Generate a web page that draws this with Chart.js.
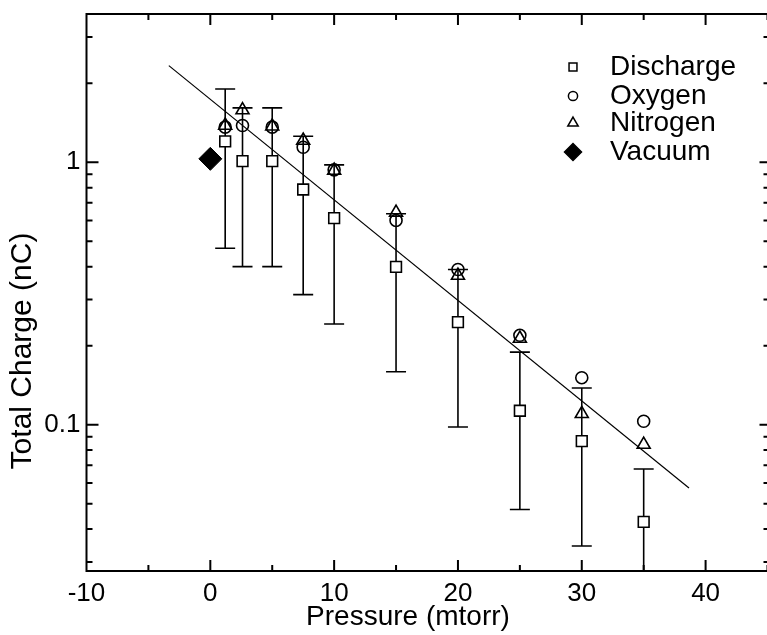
<!DOCTYPE html>
<html>
<head>
<meta charset="utf-8">
<script src="https://cdn.jsdelivr.net/npm/chart.js@4.4.0/dist/chart.umd.min.js"></script>
<style>
  html, body { margin: 0; padding: 0; background: #fff; overflow: hidden; }
  #wrap { width: 780px; height: 635px; }
</style>
</head>
<body>
<div id="wrap"><canvas id="chargeChart" width="780" height="635"></canvas></div>
<script>
// 数据：压力 (mtorr) 与总电荷 (nC)
const pressure = [1.2, 2.6, 5, 7.5, 10, 15, 20, 25, 30, 35];
const discharge = [1.20, 1.01, 1.01, 0.787, 0.612, 0.399, 0.246, 0.113, 0.0866, 0.0426];
const dischargeHigh = [1.90, 1.61, 1.61, 1.256, 0.977, 0.636, 0.390, 0.189, 0.138, 0.0678];
const dischargeLow = [0.47, 0.40, 0.40, 0.313, 0.242, 0.159, 0.098, 0.0475, 0.0345, 0.017];
const oxygen = [1.36, 1.38, 1.36, 1.14, 0.935, 0.600, 0.390, 0.219, 0.151, 0.103];
const nitrogen = [1.38, 1.58, 1.37, 1.21, 0.93, 0.643, 0.370, 0.213, 0.110, 0.084];
const vacuumX = [0];
const vacuum = [1.03];
const fitX = [-3.35, 38.66];
const fitY = [2.334, 0.0574];

// 坐标轴刻度
const xMajorTicks = [-10, 0, 10, 20, 30, 40];
const xMinorTicks = [-5, 5, 15, 25, 35, 45];
const yMajorTicks = [0.1, 1];
const yMinorTicks = [0.03, 0.04, 0.05, 0.06, 0.07, 0.08, 0.09, 0.2, 0.3, 0.4, 0.5, 0.6, 0.7, 0.8, 0.9, 2, 3];

const FONT = '"Liberation Sans", Arial, sans-serif';
const toPts = (xs, ys) => xs.map((x, i) => ({ x, y: ys[i] }));

// 误差棒
const errorBarPlugin = {
  id: 'errorBars',
  beforeDatasetsDraw(chart) {
    const { ctx, chartArea: a, scales: { x, y } } = chart;
    ctx.save();
    ctx.beginPath();
    ctx.rect(a.left, a.top, a.right - a.left, a.bottom - a.top);
    ctx.clip();
    ctx.strokeStyle = '#000';
    ctx.lineWidth = 1.6;
    pressure.forEach((p, i) => {
      const px = x.getPixelForValue(p);
      const top = y.getPixelForValue(dischargeHigh[i]);
      const bot = y.getPixelForValue(dischargeLow[i]);
      ctx.beginPath();
      ctx.moveTo(px, top); ctx.lineTo(px, bot);
      ctx.moveTo(px - 10, top); ctx.lineTo(px + 10, top);
      ctx.moveTo(px - 10, bot); ctx.lineTo(px + 10, bot);
      ctx.stroke();
    });
    ctx.restore();
  }
};

// 边框、内向刻度、标题、图例
const framePlugin = {
  id: 'frame',
  afterDraw(chart) {
    const { ctx, chartArea: a, scales: { x, y } } = chart;
    ctx.save();
    ctx.strokeStyle = '#000';
    ctx.lineWidth = 2;
    ctx.beginPath();
    ctx.moveTo(a.right, a.top); ctx.lineTo(a.left, a.top);
    ctx.lineTo(a.left, a.bottom); ctx.lineTo(a.right, a.bottom);
    const xTick = (v, len) => {
      const px = x.getPixelForValue(v);
      ctx.moveTo(px, a.bottom); ctx.lineTo(px, a.bottom - len);
      ctx.moveTo(px, a.top); ctx.lineTo(px, a.top + len);
    };
    const yTick = (v, len, rlen) => {
      const py = y.getPixelForValue(v);
      ctx.moveTo(a.left, py); ctx.lineTo(a.left + len, py);
      ctx.moveTo(a.right, py); ctx.lineTo(a.right - rlen, py);
    };
    xMajorTicks.forEach(v => xTick(v, 11));
    xMinorTicks.forEach(v => xTick(v, 6));
    yMajorTicks.forEach(v => yTick(v, 12, 8));
    yMinorTicks.forEach(v => yTick(v, 6, 4));
    ctx.stroke();

    ctx.fillStyle = '#000';
    ctx.textAlign = 'center';
    ctx.textBaseline = 'middle';
    ctx.font = '28px ' + FONT;
    ctx.fillText('Pressure (mtorr)', 408, 617);
    ctx.save();
    ctx.translate(23, 351);
    ctx.rotate(-Math.PI / 2);
    ctx.font = '30px ' + FONT;
    ctx.fillText('Total Charge (nC)', 0, 0);
    ctx.restore();

    // 图例
    const legendItems = [
      { ds: 0, r: 5.6, y: 67 },
      { ds: 1, r: 4.6, y: 96 },
      { ds: 2, r: 6, y: 123 },
      { ds: 3, r: 8.5, y: 152 }
    ];
    ctx.font = '28px ' + FONT;
    ctx.textAlign = 'left';
    legendItems.forEach(item => {
      const d = chart.data.datasets[item.ds];
      ctx.fillStyle = d.backgroundColor;
      ctx.strokeStyle = '#000';
      ctx.lineWidth = 1.5;
      Chart.helpers.drawPoint(ctx, { pointStyle: d.pointStyle, radius: item.r, borderWidth: 1.5, rotation: 0 }, 573, item.y);
      ctx.fillStyle = '#000';
      ctx.fillText(d.label, 610, item.y);
    });
    ctx.restore();
  }
};

const chart = new Chart(document.getElementById('chargeChart').getContext('2d'), {
  type: 'scatter',
  data: {
    datasets: [
      {
        label: 'Discharge', data: toPts(pressure, discharge), pointStyle: 'rect',
        pointRadius: 7.6, borderColor: '#000', backgroundColor: '#fff', borderWidth: 1.6
      },
      {
        label: 'Oxygen', data: toPts(pressure, oxygen), pointStyle: 'circle',
        pointRadius: 6, borderColor: '#000', backgroundColor: 'rgba(0,0,0,0)', borderWidth: 1.6
      },
      {
        label: 'Nitrogen', data: toPts(pressure, nitrogen), pointStyle: 'triangle',
        pointRadius: 7.5, borderColor: '#000', backgroundColor: 'rgba(0,0,0,0)', borderWidth: 1.6
      },
      {
        label: 'Vacuum', data: toPts(vacuumX, vacuum), pointStyle: 'rectRot',
        pointRadius: 11.5, borderColor: '#000', backgroundColor: '#000', borderWidth: 1
      },
      {
        label: 'Fit', data: toPts(fitX, fitY), showLine: true, pointRadius: 0,
        borderColor: '#000', borderWidth: 1.2, backgroundColor: '#000'
      }
    ]
  },
  options: {
    responsive: false,
    animation: false,
    layout: { padding: { left: 0, top: 14, right: 9, bottom: 0 } },
    plugins: { legend: { display: false }, tooltip: { enabled: false } },
    scales: {
      x: {
        type: 'linear', min: -10, max: 45,
        grid: { display: false, drawTicks: false }, border: { display: false },
        afterBuildTicks: s => { s.ticks = xMajorTicks.map(v => ({ value: v })); },
        afterFit: s => { s.height = 64; s.paddingLeft = 0; s.paddingRight = 0; },
        ticks: { color: '#000', font: { family: FONT, size: 26 }, padding: 7, maxRotation: 0 }
      },
      y: {
        type: 'logarithmic', min: 0.0277, max: 3.67,
        grid: { display: false, drawTicks: false }, border: { display: false },
        afterBuildTicks: s => { s.ticks = yMajorTicks.map(v => ({ value: v })); },
        afterFit: s => { s.width = 86.5; s.paddingTop = 0; s.paddingBottom = 0; },
        ticks: { color: '#000', font: { family: FONT, size: 26 }, padding: 6, callback: v => String(v) }
      }
    }
  },
  plugins: [errorBarPlugin, framePlugin]
});
</script>
</body>
</html>
